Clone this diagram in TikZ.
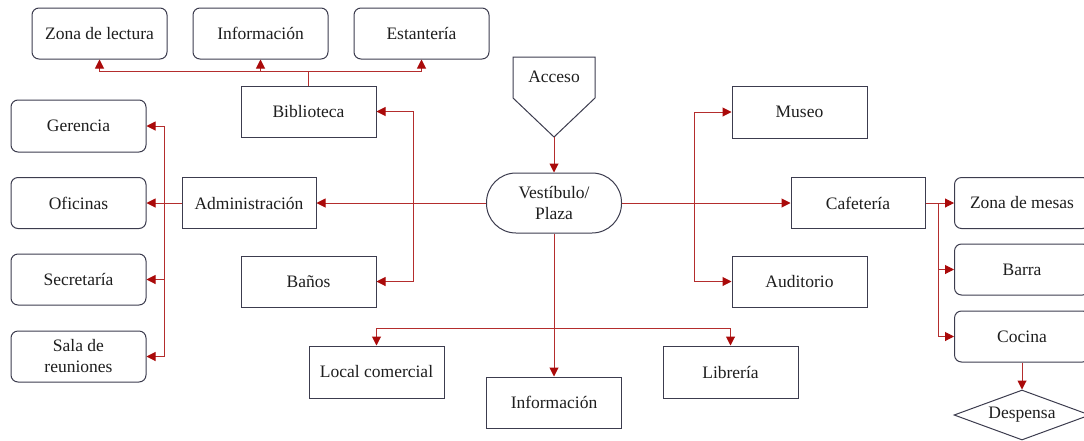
\documentclass[tikz,border=0pt]{standalone}
\usepackage{fontspec}
\setmainfont{Liberation Serif}
\usetikzlibrary{arrows.meta,shapes.geometric}
\definecolor{lnred}{RGB}{180,45,45}
\definecolor{tipred}{RGB}{170,10,10}
\definecolor{bordc}{RGB}{60,60,78}
\definecolor{txtc}{RGB}{30,30,30}
\begin{document}
\begin{tikzpicture}[x=1pt,y=-1pt,
  every node/.style={font=\fontsize{17.5}{21}\selectfont, text=txtc, align=center},
  sqbox/.style={draw=bordc, line width=1pt, rectangle, minimum width=135pt, minimum height=51pt, inner sep=0pt},
  rbox/.style={sqbox, rounded corners=7pt},
  conn/.style={draw=lnred, line width=1pt},
  arr/.style={conn, -{Triangle[length=9pt,width=9pt,fill=tipred,color=tipred]}}
]
\useasboundingbox (0,0) rectangle (1084,440);
% top library children
\node[rbox] (zona) at (99.5,33.5) {Zona de lectura};
\node[rbox] (info1) at (260.5,33.5) {Información};
\node[rbox] (estant) at (421.5,33.5) {Estantería};
\node[sqbox] (biblio) at (308.5,111.5) {Biblioteca};
% administration children
\node[rbox, minimum height=52pt] (gerencia) at (78.5,126) {Gerencia};
\node[rbox] (oficinas) at (78.5,203) {Oficinas};
\node[rbox] (secret) at (78.5,279.5) {Secretaría};
\node[rbox] (sala) at (78.5,356.5) {Sala de\\reuniones};
\node[sqbox, minimum width=134pt] (admin) at (249,203) {Administración};
\node[sqbox] (banos) at (308.5,281.5) {Baños};
% access
\draw[draw=bordc, line width=1pt] (513,57) -- (595,57) -- (595,98) -- (554,137) -- (513,98) -- cycle;
\node (acceso) at (554,77) {Acceso};
\coordinate (accesotip) at (554,137);
% vestibule
\node[draw=bordc, line width=1pt, rectangle, rounded corners=29.5pt, minimum width=135pt, minimum height=60pt, inner sep=0pt] (vest) at (554,203) {Vestíbulo/\\Plaza};
% right side
\node[sqbox, minimum height=52pt] (museo) at (799.5,112) {Museo};
\node[sqbox] (audit) at (799.5,281.5) {Auditorio};
\node[sqbox, minimum width=134pt] (cafe) at (858,203) {Cafetería};
\node[rbox] (zonam) at (1022,203) {Zona de mesas};
\node[rbox] (barra) at (1022,269.5) {Barra};
\node[rbox] (cocina) at (1022,336.5) {Cocina};
\node[draw=bordc, line width=1pt, diamond, aspect=2.7, minimum width=136pt, minimum height=50pt, inner sep=0pt] (despensa) at (1022,415) {Despensa};
% bottom
\node[sqbox, minimum height=52pt] (locc) at (376.5,372) {Local comercial};
\node[sqbox] (info2) at (554,402.5) {Información};
\node[sqbox, minimum height=52pt] (libr) at (730.5,372) {Librería};
% junction coordinates
\coordinate (bj) at (308.5,71);
\coordinate (bbj) at (413,203);
\coordinate (adj) at (164,203);
\coordinate (mj) at (694,203);
\coordinate (cj) at (938,203);
\coordinate (vj) at (554,328);
% connectors
\draw[conn] (biblio.north) -- (bj);
\draw[arr] (bj) -| (zona.south);
\draw[arr] (bj) -| (info1.south);
\draw[arr] (bj) -| (estant.south);
\draw[arr] (accesotip) -- (vest.north);
\draw[arr] (vest.west) -- (admin.east);
\draw[arr] (bbj) |- (biblio.east);
\draw[arr] (bbj) |- (banos.east);
\draw[conn] (admin.west) -- (adj);
\draw[arr] (adj) |- (gerencia.east);
\draw[arr] (adj) -- (oficinas.east);
\draw[arr] (adj) |- (secret.east);
\draw[arr] (adj) |- (sala.east);
\draw[arr] (vest.east) -- (cafe.west);
\draw[arr] (mj) |- (museo.west);
\draw[arr] (mj) |- (audit.west);
\draw[conn] (cafe.east) -- (cj);
\draw[arr] (cj) -- (zonam.west);
\draw[arr] (cj) |- (barra.west);
\draw[arr] (cj) |- (cocina.west);
\draw[arr] (cocina.south) -- (despensa.north);
\draw[arr] (vest.south) -- (info2.north);
\draw[arr] (vj) -| (locc.north);
\draw[arr] (vj) -| (libr.north);
\end{tikzpicture}
\end{document}
